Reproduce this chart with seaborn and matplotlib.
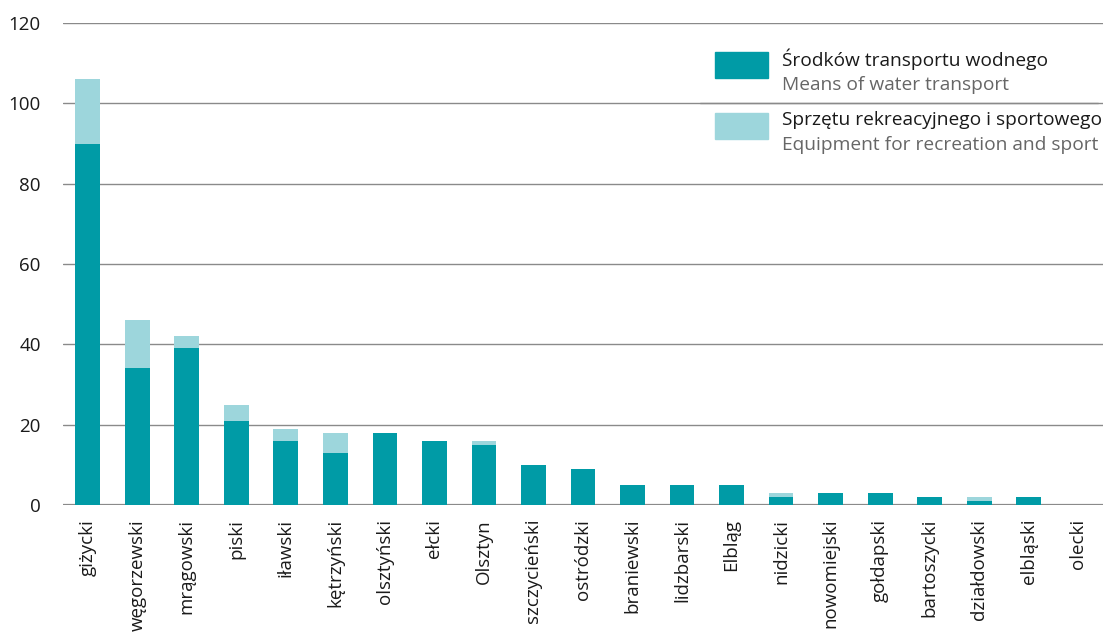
import matplotlib
matplotlib.use("Agg")
import matplotlib.pyplot as plt
import seaborn as sns
import pandas as pd
from matplotlib.patches import Rectangle
from matplotlib.lines import Line2D

categories = ["giżycki", "węgorzewski", "mrągowski", "piski", "iławski", "kętrzyński",
              "olsztyński", "ełcki", "Olsztyn", "szczycieński", "ostródzki", "braniewski",
              "lidzbarski", "Elbląg", "nidzicki", "nowomiejski", "gołdapski", "bartoszycki",
              "działdowski", "elbląski", "olecki"]
water_transport = [90, 34, 39, 21, 16, 13, 18, 16, 15, 10, 9, 5, 5, 5, 2, 3, 3, 2, 1, 2, 0]
recreation_sport = [16, 12, 3, 4, 3, 5, 0, 0, 1, 0, 0, 0, 0, 0, 1, 0, 0, 0, 1, 0, 0]
yticks = [0, 20, 40, 60, 80, 100, 120]

label_pl = ["Środków transportu wodnego", "Sprzętu rekreacyjnego i sportowego"]
label_en = ["Means of water transport", "Equipment for recreation and sport"]

dark = "#009ba6"
light = "#9dd6dc"

sns.set_theme(style="white")
plt.rcParams["font.family"] = ["Open Sans", "DejaVu Sans"]

df = pd.DataFrame({"cat": categories,
                   "water": water_transport,
                   "total": [a + b for a, b in zip(water_transport, recreation_sport)]})

fig = plt.figure(figsize=(11.06, 6.35), dpi=100)
ax = fig.add_axes([63 / 1106, 1 - 505 / 635, (1103 - 63) / 1106, (505 - 23) / 635])

for y in yticks:
    ax.axhline(y, color="#8a8a8a", lw=1.0 if y else 1.6, zorder=0)

sns.barplot(data=df, x="cat", y="total", color=light, width=0.5, saturation=1,
            ax=ax, zorder=2, edgecolor="none")
sns.barplot(data=df, x="cat", y="water", color=dark, width=0.5, saturation=1,
            ax=ax, zorder=3, edgecolor="none")

ax.set_xlim(-0.5, len(categories) - 0.5)
ax.set_ylim(0, 120)
ax.set_yticks(yticks)
ax.set_yticklabels([str(v) for v in yticks], fontsize=13.5, color="#1a1a1a")
ax.set_xticks(range(len(categories)))
ax.set_xticklabels(categories, rotation=90, fontsize=13.5, color="#1a1a1a")
ax.tick_params(axis="y", length=0, pad=16)
ax.tick_params(axis="x", length=0, pad=10)
ax.set_xlabel("")
ax.set_ylabel("")
for s in ax.spines.values():
    s.set_visible(False)

# legend
def fx(px):
    return px / 1106
def fy(py):
    return 1 - py / 635

fig.patches.append(Rectangle((fx(715), fy(78)), fx(768) - fx(715), fy(52) - fy(78),
                             transform=fig.transFigure, color=dark))
fig.patches.append(Rectangle((fx(715), fy(139)), fx(768) - fx(715), fy(113) - fy(139),
                             transform=fig.transFigure, color=light))
fig.text(fx(782), fy(59), label_pl[0], fontsize=13.8, color="#1a1a1a", va="center")
fig.text(fx(782), fy(85), label_en[0], fontsize=13.8, color="#666666", va="center")
fig.text(fx(782), fy(120), label_pl[1], fontsize=13.8, color="#1a1a1a", va="center")
fig.text(fx(782), fy(145), label_en[1], fontsize=13.8, color="#666666", va="center")
fig.lines.append(Line2D([fx(700), fx(1098)], [fy(103), fy(103)],
                        transform=fig.transFigure, color="#8a8a8a", lw=1))

fig.savefig("out.png", dpi=100)
